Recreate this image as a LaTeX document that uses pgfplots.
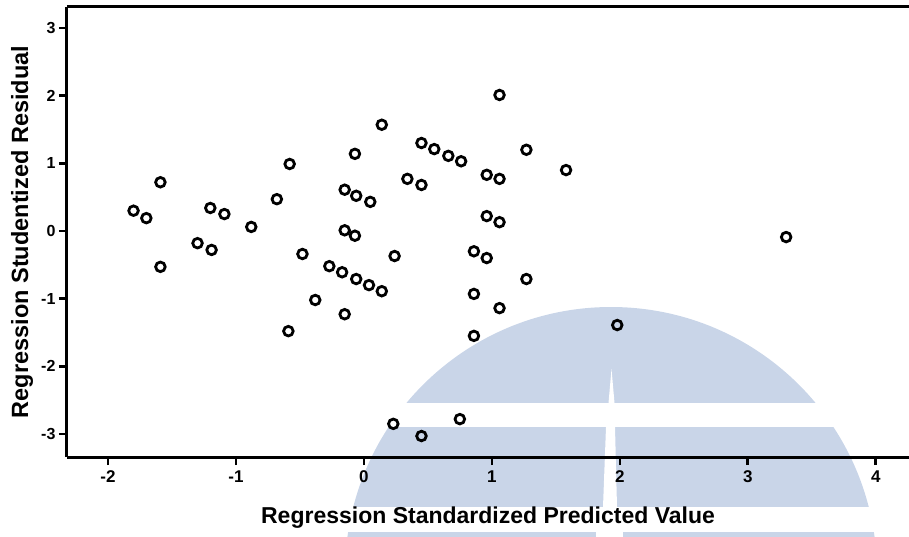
\documentclass[border=0pt]{standalone}
\usepackage{pgfplots}
\pgfplotsset{compat=1.18}
\usepackage{fontspec}
\setmainfont{Liberation Sans}
\definecolor{wm}{RGB}{201,213,232}

\begin{document}
\begin{tikzpicture}
% page size, 1pt = 1px of the reference
\useasboundingbox (-67pt,-79pt) rectangle (842pt,457pt);

% faint watermark behind the plot
\begin{scope}[overlay]
  \fill[wm] (544pt,-116pt) circle[radius=266pt];
  \fill[white] (200pt,30pt) rectangle (900pt,54pt);
  \fill[white] (200pt,-75pt) rectangle (900pt,-50pt);
  \fill[white] (541.5pt,54pt) -- (544.5pt,88pt) -- (547.5pt,54pt) -- cycle;
  \fill[white] (539pt,30pt) -- (548pt,30pt) -- (550pt,-50pt) -- (536pt,-50pt) -- cycle;
  \fill[white] (529pt,-75pt) rectangle (556pt,-100pt);
\end{scope}

\begin{axis}[
  at={(0pt,0pt)}, anchor=south west,
  scale only axis,
  width=842pt, height=450pt,
  xmin=-2.32, xmax=4.26,
  ymin=-3.34, ymax=3.31,
  separate axis lines,
  axis x line*=box,
  axis y line*=left,
  every outer x axis line/.append style={line width=3pt, black},
  every outer y axis line/.append style={line width=3pt, black},
  xtick={-2,-1,0,1,2,3,4},
  xticklabels={-2,-1,0,1,2,3,4},
  ytick={-3,-2,-1,0,1,2,3},
  yticklabels={-3,-2,-1,0,1,2,3},
  xtick pos=bottom, ytick pos=left,
  tick align=outside,
  major tick length=8pt,
  tick style={line width=2.6pt, black},
  xticklabel style={font=\fontsize{17}{17}\selectfont\bfseries, yshift=-2pt},
  yticklabel style={font=\fontsize{16}{16}\selectfont\bfseries},
  xlabel={Regression Standardized Predicted Value},
  ylabel={Regression Studentized Residual},
  xlabel style={at={(axis description cs:0.5,-0.1467)}, anchor=base,
    font=\fontsize{23}{23}\selectfont\bfseries},
  ylabel style={at={(axis description cs:-0.0463,0.5)}, anchor=base,
    font=\fontsize{23.5}{23.5}\selectfont\bfseries},
]
\addplot[only marks, mark=o, mark size=4.8pt, black,
  mark options={line width=2.8pt}] table {
x y
-1.80 0.30
-1.70 0.19
-1.59 0.72
-1.59 -0.53
-1.30 -0.18
-1.20 0.34
-1.19 -0.28
-1.09 0.25
-0.88 0.06
-0.68 0.47
-0.58 0.99
-0.59 -1.48
-0.48 -0.34
-0.38 -1.02
-0.27 -0.52
-0.17 -0.61
-0.15 0.61
-0.15 0.01
-0.15 -1.23
-0.07 1.14
-0.06 0.52
-0.07 -0.07
-0.06 -0.71
0.05 0.43
0.04 -0.80
0.14 -0.89
0.14 1.57
0.24 -0.37
0.23 -2.85
0.34 0.77
0.45 0.68
0.45 1.30
0.45 -3.03
0.55 1.21
0.66 1.11
0.76 1.03
0.75 -2.78
0.86 -0.30
0.86 -0.93
0.86 -1.55
0.96 0.83
0.96 0.22
0.96 -0.40
1.06 2.01
1.06 0.77
1.06 0.13
1.06 -1.14
1.27 1.20
1.27 -0.71
1.58 0.90
1.98 -1.39
3.30 -0.09
};
\end{axis}
\end{tikzpicture}
\end{document}
